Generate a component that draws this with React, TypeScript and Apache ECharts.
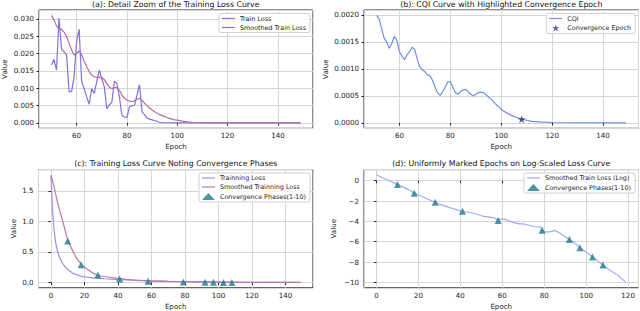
import React, { useEffect, useRef } from 'react';
import * as echarts from 'echarts';

const FONT = 'DejaVu Sans';

// (a) Detail zoom of training loss, epochs 50..149
const A_TRAIN_LOSS: [number, number][] = [
  [50, 0.0167], [51, 0.0183], [52, 0.0152], [53, 0.0302], [54, 0.0212], [55, 0.0205], [56, 0.0196],
  [57, 0.0090], [58, 0.0091], [59, 0.0133], [60, 0.0235], [61, 0.0270], [62, 0.0119], [63, 0.0099],
  [64, 0.0075], [65, 0.0054], [66, 0.0099], [67, 0.0085], [68, 0.0119], [69, 0.0152], [70, 0.0128],
  [71, 0.0104], [72, 0.0041], [73, 0.0051], [74, 0.0060], [75, 0.0120], [76, 0.0114], [77, 0.0075],
  [78, 0.0022], [79, 0.0017], [80, 0.0015], [81, 0.0046], [82, 0.0050], [83, 0.0051], [84, 0.0080],
  [85, 0.0110], [86, 0.0032], [87, 0.0024], [88, 0.0014], [89, 0.0011], [90, 0.0009], [91, 0.0007],
  [92, 0.0004], [93, 0.0002], [94, 0.0001], [96, 0.00005], [100, 0.00002], [110, 0.00001], [149, 0],
];
const A_SMOOTHED: [number, number][] = [
  [50, 0.0310], [51, 0.0297], [52, 0.0280], [53, 0.0271], [54, 0.0270], [55, 0.0262], [56, 0.0250],
  [57, 0.0230], [58, 0.0210], [59, 0.0196], [60, 0.0200], [61, 0.0208], [62, 0.0196], [63, 0.0178],
  [64, 0.0162], [65, 0.0148], [66, 0.0138], [67, 0.0133], [68, 0.0131], [69, 0.0132], [70, 0.0130],
  [71, 0.0125], [72, 0.0114], [73, 0.0103], [74, 0.0099], [75, 0.0102], [76, 0.0102], [77, 0.0094],
  [78, 0.0081], [79, 0.0071], [80, 0.0066], [81, 0.0063], [82, 0.0061], [83, 0.0064], [84, 0.0068],
  [85, 0.0071], [86, 0.0065], [87, 0.0057], [88, 0.0049], [89, 0.0043], [90, 0.0037], [91, 0.0032],
  [92, 0.0028], [93, 0.0024], [94, 0.0021], [95, 0.0018], [96, 0.0015], [97, 0.0013], [98, 0.0011],
  [99, 0.0009], [100, 0.0008], [102, 0.0005], [104, 0.0003], [106, 0.0002], [108, 0.00012],
  [110, 0.00007], [114, 0.00003], [120, 0.00001], [149, 0],
];

// (b) CQI curve
const B_CQI: [number, number][] = [
  [51, 0.00199], [52, 0.00193], [53, 0.00175], [54, 0.00157], [55, 0.00150], [56, 0.00138],
  [57, 0.00147], [58, 0.00160], [59, 0.00153], [60, 0.00132], [61, 0.00124], [62, 0.00117],
  [63, 0.00126], [64, 0.00132], [65, 0.00140], [66, 0.00136], [67, 0.00118], [68, 0.00104],
  [69, 0.00098], [70, 0.00095], [71, 0.00089], [72, 0.00087], [73, 0.00079], [74, 0.00066],
  [75, 0.00056], [76, 0.00051], [77, 0.00058], [78, 0.00066], [79, 0.00076], [80, 0.00076],
  [81, 0.00066], [82, 0.00056], [83, 0.00053], [84, 0.00058], [85, 0.00061], [86, 0.00062],
  [87, 0.00058], [88, 0.00053], [89, 0.00050], [90, 0.00053], [91, 0.00056], [92, 0.00057],
  [93, 0.00056], [94, 0.00052], [95, 0.00048], [96, 0.00044], [97, 0.00039], [98, 0.00034],
  [99, 0.00030], [100, 0.00025], [102, 0.00019], [104, 0.00014], [106, 0.00010], [108, 0.00007],
  [110, 0.00005], [112, 0.00003], [115, 0.000018], [120, 0.000008], [130, 0.000003], [149, 0],
];
const B_CONVERGENCE: [number, number][] = [[108, 0.00007]];

// (c) Training loss with convergence phases
const C_TRAIN_LOSS: [number, number][] = [
  [0, 1.74], [1, 1.15], [2, 0.82], [3, 0.62], [4, 0.50], [5, 0.42], [6, 0.36], [7, 0.31], [8, 0.27],
  [9, 0.24], [10, 0.21], [11, 0.19], [12, 0.17], [13, 0.15], [14, 0.14], [15, 0.13], [16, 0.12],
  [17, 0.11], [18, 0.10], [20, 0.09], [22, 0.085], [25, 0.075], [28, 0.07], [32, 0.06], [36, 0.055],
  [40, 0.045], [45, 0.04], [50, 0.035], [55, 0.03], [60, 0.025], [70, 0.018], [80, 0.012],
  [90, 0.008], [100, 0.005], [110, 0.003], [120, 0.002], [149, 0.001],
];
const C_SMOOTHED: [number, number][] = [
  [0, 1.76], [1, 1.66], [2, 1.55], [3, 1.42], [4, 1.30], [5, 1.20], [6, 1.10], [7, 1.00], [8, 0.90],
  [9, 0.79], [10, 0.70], [12, 0.57], [14, 0.46], [16, 0.37], [18, 0.30], [20, 0.25], [22, 0.21],
  [24, 0.17], [26, 0.14], [28, 0.12], [30, 0.105], [35, 0.085], [40, 0.065], [45, 0.05], [50, 0.04],
  [58, 0.027], [70, 0.017], [79, 0.012], [90, 0.008], [100, 0.005], [110, 0.004], [120, 0.003],
  [149, 0.002],
];
const PHASE_EPOCHS = [10, 18, 28, 41, 58, 79, 92, 97, 103, 108];
const C_PHASE_VALUES = [0.68, 0.29, 0.12, 0.055, 0.02, 0.008, 0.003, 0.0014, 0.0006, 0.0002];

// (d) Log-scaled smoothed loss
const D_LOG_LOSS: [number, number][] = [
  [0, 0.57], [5, 0.1], [10, -0.36], [15, -0.85], [18, -1.22], [20, -1.4], [25, -1.85], [28, -2.12],
  [30, -2.3], [35, -2.65], [40, -2.95], [41, -3.0], [45, -3.15], [48, -3.3], [50, -3.45],
  [53, -3.55], [56, -3.65], [58, -3.85], [60, -3.75], [62, -3.85], [65, -4.1], [68, -4.25],
  [70, -4.25], [73, -4.4], [76, -4.55], [78, -4.5], [79, -4.88], [80, -5.0], [82, -5.05],
  [85, -4.9], [87, -5.1], [90, -5.5], [92, -5.77], [95, -6.2], [97, -6.6], [100, -7.0],
  [103, -7.5], [105, -7.8], [108, -8.3], [110, -8.6], [115, -9.3], [119, -10.0],
];
const D_PHASE_VALUES = [-0.36, -1.24, -2.12, -3.0, -3.9, -4.88, -5.77, -6.6, -7.5, -8.3];

const TITLES = [
  '(a): Detail Zoom of the Training Loss Curve',
  '(b): CQI Curve with Highlighted Convergence Epoch',
  '(c): Training Loss Curve Noting Convergence Phases',
  '(d): Uniformly Marked Epochs on Log-Scaled Loss Curve',
];

const STAR = 'path://M0,-1 L0.2245,-0.309 L0.951,-0.309 L0.363,0.118 L0.588,0.809 L0,0.382 L-0.588,0.809 L-0.363,0.118 L-0.951,-0.309 L-0.2245,-0.309 Z';
const LINE_ICON = 'path://M0,0 L26,0 L26,2.4 L0,2.4 Z';

const minus = (s: string) => s.replace('-', '\u2212');

export default function App() {
  const ref = useRef<HTMLDivElement>(null);
  useEffect(() => {
    const chart = echarts.init(ref.current!, null, { renderer: 'svg' });
    const GW = 274.5;
    const grids = [
      { left: 38.5, top: 10, width: GW, height: 118.3 },
      { left: 364, top: 10, width: GW, height: 118.3 },
      { left: 38.5, top: 169.6, width: GW, height: 118.2 },
      { left: 364, top: 169.6, width: GW, height: 118.2 },
    ].map((g) => ({ ...g, show: true, borderColor: '#222', borderWidth: 1, backgroundColor: 'transparent', containLabel: false }));

    const tickFont = { fontFamily: FONT, fontSize: 7.1, color: '#222' };
    const split = { show: true, lineStyle: { color: '#d6d6d6', width: 1 } };
    const xRanges = [[45.05, 153.95], [46.1, 153.9], [-7.45, 156.45], [-5.95, 124.95]];
    const yRanges = [[-0.00155, 0.03255], [-0.0000995, 0.0020895], [-0.088, 1.848], [-10.53, 1.093]];
    const yIntervals = [0.005, 0.0005, 0.5, 2];
    const yDigits = [3, 4, 1, 0];
    const yNameGaps = [31, 35, 22, 27];

    const xAxis = xRanges.map((r, i) => ({
      type: 'value', gridIndex: i, min: r[0], max: r[1], splitNumber: 5, minInterval: 20, maxInterval: 20,
      name: 'Epoch', nameLocation: 'middle', nameGap: 15,
      nameTextStyle: { fontFamily: FONT, fontSize: 7.1, color: '#222' },
      axisLine: { show: false }, axisTick: { show: true, length: 2.5, lineStyle: { color: '#222' } },
      axisLabel: { ...tickFont, margin: 4, showMinLabel: false, showMaxLabel: false,
        formatter: (v: number) => minus(String(Math.round(v))) },
      splitLine: split,
    }));
    const yAxis = yRanges.map((r, i) => ({
      type: 'value', gridIndex: i, min: r[0], max: r[1], minInterval: yIntervals[i], maxInterval: yIntervals[i],
      name: 'Value', nameLocation: 'middle', nameGap: yNameGaps[i], nameRotate: 90,
      nameTextStyle: { fontFamily: FONT, fontSize: 7.1, color: '#222' },
      axisLine: { show: false }, axisTick: { show: true, length: 2.5, lineStyle: { color: '#222' } },
      axisLabel: { ...tickFont, margin: 5, showMinLabel: false, showMaxLabel: false,
        formatter: (v: number) => minus(v.toFixed(yDigits[i])) },
      splitLine: split,
    }));

    const line = (name: string, data: [number, number][], idx: number, color: string, width = 1.2) => ({
      type: 'line', name, data, xAxisIndex: idx, yAxisIndex: idx, symbol: 'none', smooth: false,
      lineStyle: { color, width }, itemStyle: { color }, z: 3,
    });
    const phases = (vals: number[]) => PHASE_EPOCHS.map((e, k) => [e, vals[k]]);
    const teal = '#1f7b8d';

    const legendBase = {
      orient: 'vertical', itemWidth: 13, itemHeight: 7, itemGap: 3, padding: [2, 4, 2, 3],
      backgroundColor: 'rgba(255,255,255,0.85)', borderColor: '#d0d0d0', borderWidth: 1, borderRadius: 2,
      textStyle: { fontFamily: FONT, fontSize: 6.4, color: '#222' }, selectedMode: false,
      symbolKeepAspect: true,
    };
    const li = (name: string) => ({ name, icon: LINE_ICON });

    const centers = grids.map((g) => g.left + g.width / 2);
    const option: any = {
      animation: false,
      backgroundColor: '#fff',
      title: TITLES.map((t, i) => ({
        text: t, left: centers[i], top: i < 2 ? 0 : 159.5, textAlign: 'center', padding: 0,
        textStyle: { fontFamily: FONT, fontSize: 7.8, fontWeight: 'normal', color: '#111' },
      })),
      grid: grids,
      xAxis, yAxis,
      legend: [
        { ...legendBase, right: 330, top: 13.5, data: [li('Train Loss'), li('Smoothed Train Loss')] },
        { ...legendBase, right: 5, top: 13.5, data: [li('CQI'), 'Convergence Epoch'] },
        { ...legendBase, right: 330, top: 173, data: [li('Trainning Loss'), li('Smoothed Trainning Loss'), 'Convergence Phases(1-10)'] },
        { ...legendBase, right: 5, top: 173, data: [li('Smoothed Train Loss (Log)'), 'Convergence Phases(1-10)'] },
      ],
      series: [
        line('Train Loss', A_TRAIN_LOSS, 0, '#7e72dc'),
        line('Smoothed Train Loss', A_SMOOTHED, 0, '#b56c9f'),
        line('CQI', B_CQI, 1, '#6f8fdc'),
        { type: 'scatter', name: 'Convergence Epoch', data: B_CONVERGENCE, xAxisIndex: 1, yAxisIndex: 1,
          symbol: STAR, symbolSize: 8, itemStyle: { color: '#3b2d8a' }, z: 5 },
        line('Trainning Loss', C_TRAIN_LOSS, 2, '#9a8fe8'),
        line('Smoothed Trainning Loss', C_SMOOTHED, 2, '#b878a6'),
        { type: 'scatter', name: 'Convergence Phases(1-10)', data: phases(C_PHASE_VALUES), xAxisIndex: 2, yAxisIndex: 2,
          symbol: 'triangle', symbolSize: 7, itemStyle: { color: teal }, z: 5 },
        line('Smoothed Train Loss (Log)', D_LOG_LOSS, 3, '#9eabfb'),
        { type: 'scatter', name: 'Convergence Phases(1-10)', data: phases(D_PHASE_VALUES), xAxisIndex: 3, yAxisIndex: 3,
          symbol: 'triangle', symbolSize: 7, itemStyle: { color: teal }, z: 5 },
      ],
    };
    chart.setOption(option);
    return () => chart.dispose();
  }, []);
  return <div ref={ref} style={{ position: 'fixed', left: 0, top: 0, width: 640, height: 311 }} />;
}
